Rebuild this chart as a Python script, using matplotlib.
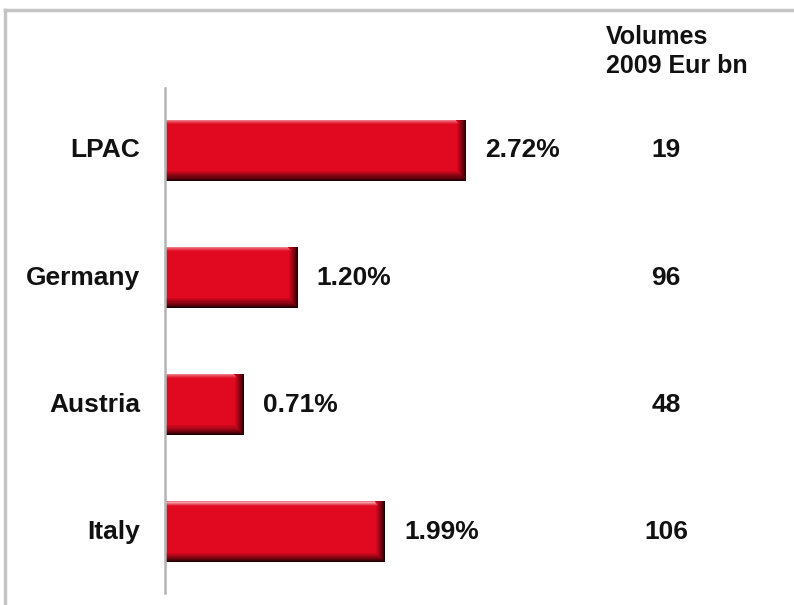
import numpy as np
import matplotlib.pyplot as plt
from matplotlib.lines import Line2D
from matplotlib.colors import to_rgb
import matplotlib.transforms as mtransforms

countries = ['LPAC', 'Germany', 'Austria', 'Italy']
shares = [2.72, 1.20, 0.71, 1.99]
share_labels = ['2.72%', '1.20%', '0.71%', '1.99%']
volumes = ['19', '96', '48', '106']

plt.rcParams['font.family'] = ['Liberation Sans', 'DejaVu Sans']

W, H = 794, 605
fig = plt.figure(figsize=(W / 100, H / 100), dpi=100)
fig.patch.set_facecolor('white')

# grey frame (top and left edge)
fig.add_artist(Line2D([5 / W, 1], [1 - 10 / H, 1 - 10 / H], color='#c4c4c4', lw=2.5))
fig.add_artist(Line2D([5 / W, 5 / W], [0, 1 - 10 / H], color='#c4c4c4', lw=2.5))

ax = fig.add_axes([165 / W, 12 / H, (W - 165) / W, 505 / H])
ax.set_xlim(0, (W - 165) / 110.7)
ax.set_ylim(3.48, -0.49)
for s in ['top', 'right', 'bottom']:
    ax.spines[s].set_visible(False)
ax.spines['left'].set_color('#b4b4b4')
ax.spines['left'].set_linewidth(1.8)
ax.set_xticks([])
ax.set_yticks([])
ax.patch.set_alpha(0)

ypos = np.arange(len(countries))
shares_a = np.array(shares)
bh = 0.48
px_x = 1 / 110.7
px_y = 1 / 127.0
tops = ypos - bh / 2

# bevelled bars: layers from dark outer edge to red face
dark = np.array(to_rgb('#1e0004'))
red = np.array(to_rgb('#e0091f'))
n = 9
for k in range(n + 1):
    t = (k / n) ** 0.8
    col = dark * (1 - t) + red * t
    ax.barh(tops, shares_a - k * 1.0 * px_x, height=bh - k * 1.1 * px_y,
            align='edge', color=col, lw=0)

# soft highlight on top edge
for k, a in enumerate([0.45, 0.3, 0.18, 0.08]):
    ax.barh(tops + k * px_y, shares_a - (n + 1 - k) * px_x, height=1.2 * px_y,
            align='edge', color='white', alpha=a, lw=0)
# soft highlight on left edge
ax.barh(tops, [2 * px_x] * len(shares), height=bh - 10 * px_y, align='edge',
        color='white', alpha=0.2, lw=0)

tf = mtransforms.blended_transform_factory(fig.transFigure, ax.transData)
for y, c, v, lab, vol in zip(ypos, countries, shares, share_labels, volumes):
    ax.text(140 / W, y, c, transform=tf, ha='right', va='center',
            fontsize=19, fontweight='bold', color='#111111')
    ax.text(v + 19 * px_x, y, lab, ha='left', va='center',
            fontsize=19, fontweight='bold', color='#111111')
    ax.text(666 / W, y, vol, transform=tf, ha='center', va='center',
            fontsize=19, fontweight='bold', color='#111111')

fig.text(606 / W, 1 - 37 / H, 'Volumes', ha='left', va='center',
         fontsize=18, fontweight='bold', color='#111111')
fig.text(606 / W, 1 - 66 / H, '2009 Eur bn', ha='left', va='center',
         fontsize=18, fontweight='bold', color='#111111')

fig.savefig('out.png', dpi=100, facecolor='white')
